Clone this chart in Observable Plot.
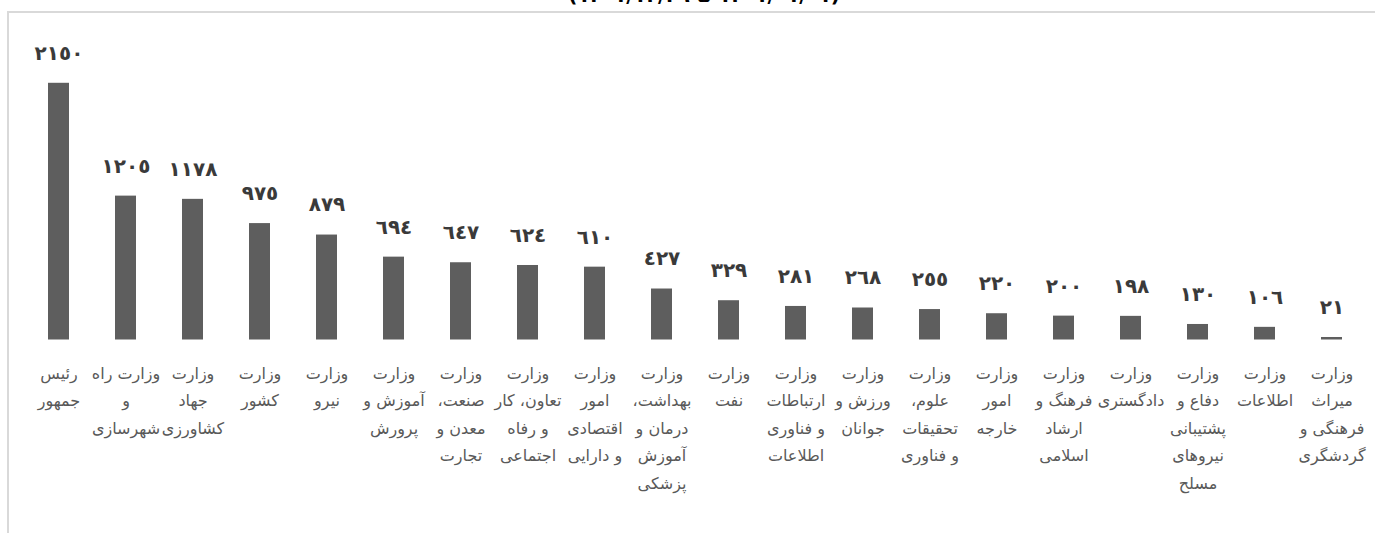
<!DOCTYPE html>
<html>
<head>
<meta charset="utf-8">
<script src="https://cdn.jsdelivr.net/npm/d3@7"></script>
<script src="https://cdn.jsdelivr.net/npm/@observablehq/plot@0.6"></script>
<style>
  html, body { margin: 0; padding: 0; background: #fff; }
  #wrap { position: relative; width: 1375px; height: 533px; overflow: hidden; font-family: "DejaVu Sans", sans-serif; }
  #title { position: absolute; top: -17px; left: 600px; width: 240px; text-align: center; font: bold 20px "DejaVu Sans", sans-serif; color: #000; white-space: nowrap; direction: rtl; }
  #frame { position: absolute; left: 7px; top: 11px; width: 1380px; height: 540px; border-left: 2px solid #d9d9d9; border-top: 2px solid #d9d9d9; }
  #chart { position: absolute; left: 0; top: 0; }
  #chart svg text { direction: rtl; unicode-bidi: embed; }
</style>
</head>
<body>
<div id="wrap">
  <div id="title">(۱۴۰۱/۰۱/۰۱ تا ۱۴۰۱/۱۲/۲۹)</div>
  <div id="frame"></div>
  <div id="chart"></div>
</div>
<script>
// Categories (left to right)
const categories = [
  "رئیس جمهور",
  "وزارت راه و شهرسازی",
  "وزارت جهاد کشاورزی",
  "وزارت کشور",
  "وزارت نیرو",
  "وزارت آموزش و پرورش",
  "وزارت صنعت، معدن و تجارت",
  "وزارت تعاون، کار و رفاه اجتماعی",
  "وزارت امور اقتصادی و دارایی",
  "وزارت بهداشت، درمان و آموزش پزشکی",
  "وزارت نفت",
  "وزارت ارتباطات و فناوری اطلاعات",
  "وزارت ورزش و جوانان",
  "وزارت علوم، تحقیقات و فناوری",
  "وزارت امور خارجه",
  "وزارت فرهنگ و ارشاد اسلامی",
  "وزارت دادگستری",
  "وزارت دفاع و پشتیبانی نیروهای مسلح",
  "وزارت اطلاعات",
  "وزارت میراث فرهنگی و گردشگری"
];

// Values
const values = [2150, 1205, 1178, 975, 879, 694, 647, 624, 610, 427, 329, 281, 268, 255, 220, 200, 198, 130, 106, 21];

// Tick labels (wrapped as in the reference)
const tickLabels = [
  "رئیس\nجمهور",
  "وزارت راه\nو\nشهرسازی",
  "وزارت\nجهاد\nکشاورزی",
  "وزارت\nکشور",
  "وزارت\nنیرو",
  "وزارت\nآموزش و\nپرورش",
  "وزارت\nصنعت،\nمعدن و\nتجارت",
  "وزارت\nتعاون، کار\nو رفاه\nاجتماعی",
  "وزارت\nامور\nاقتصادی\nو دارایی",
  "وزارت\nبهداشت،\nدرمان و\nآموزش\nپزشکی",
  "وزارت\nنفت",
  "وزارت\nارتباطات\nو فناوری\nاطلاعات",
  "وزارت\nورزش و\nجوانان",
  "وزارت\nعلوم،\nتحقیقات\nو فناوری",
  "وزارت\nامور\nخارجه",
  "وزارت\nفرهنگ و\nارشاد\nاسلامی",
  "وزارت\nدادگستری",
  "وزارت\nدفاع و\nپشتیبانی\nنیروهای\nمسلح",
  "وزارت\nاطلاعات",
  "وزارت\nمیراث\nفرهنگی و\nگردشگری"
];

const arabicDigits = "٠١٢٣٤٥٦٧٨٩";
const toArabic = n => String(n).replace(/[0-9]/g, d => arabicDigits[+d]);

const data = categories.map((c, i) => ({category: c, value: values[i], label: tickLabels[i]}));
const labelOf = new Map(data.map(d => [d.category, d.label]));

const chart = Plot.plot({
  width: 1375,
  height: 533,
  marginLeft: 19,
  marginRight: 4,
  marginTop: 41,
  marginBottom: 193.5,
  style: {fontFamily: "DejaVu Sans, sans-serif", background: "transparent", overflow: "visible"},
  x: {domain: categories, paddingInner: 0.69, paddingOuter: 0.345, label: null},
  y: {domain: [0, 2500], axis: null},
  marks: [
    Plot.barY(data, {x: "category", y: "value", fill: "#5e5e5e"}),
    Plot.ruleY([0], {stroke: "#d9d9d9", strokeWidth: 2, x1: 20, x2: 1375}),
    Plot.text(data, {
      x: "category", y: "value", text: d => toArabic(d.value),
      dy: -30, lineAnchor: "middle", fontSize: 20, fontWeight: "bold", fill: "#3a3a3a"
    }),
    Plot.axisX({
      tickSize: 0, tickPadding: 19, fontSize: 16, lineHeight: 1.72,
      tickFormat: c => labelOf.get(c), fill: "#595959", label: null
    })
  ]
});
document.getElementById("chart").appendChild(chart);
</script>
</body>
</html>
